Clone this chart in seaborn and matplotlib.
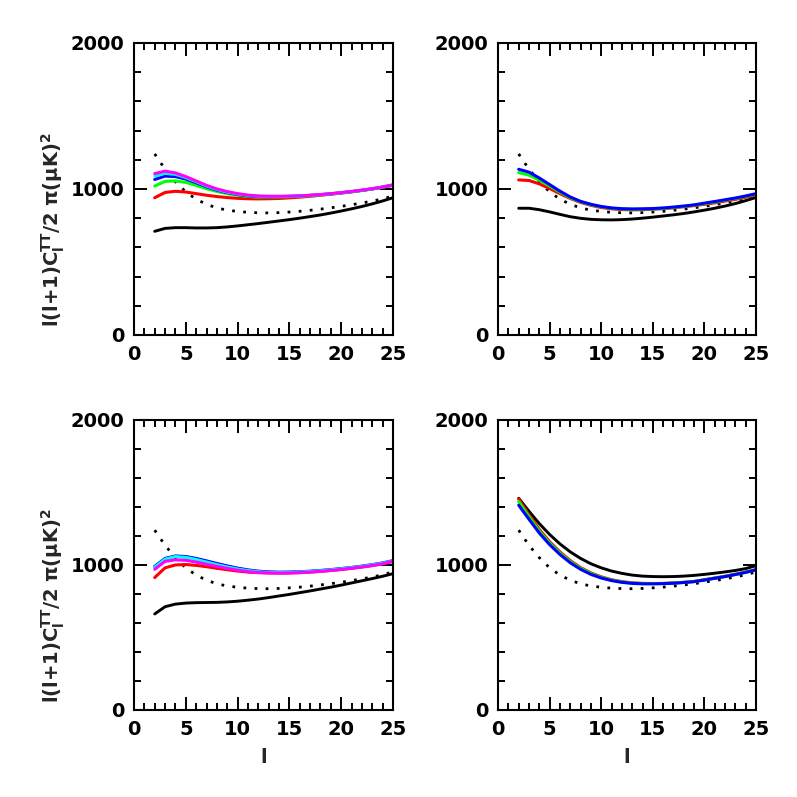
import pandas as pd
import seaborn as sns
import matplotlib.pyplot as plt
from matplotlib.ticker import MultipleLocator

# multipoles
ell = list(range(2, 26))

# reference model (dotted, same in every panel)
ref_dotted = [1240, 1135, 1050, 980, 930, 895, 870, 855, 846, 840, 837, 836,
              838, 842, 847, 854, 862, 871, 881, 892, 904, 917, 932, 952]

# top left
tl_black = [710, 730, 735, 735, 733, 733, 735, 740, 747, 755, 763, 772,
            781, 790, 800, 811, 822, 835, 849, 864, 880, 898, 918, 940]
tl_red = [940, 976, 984, 979, 968, 957, 948, 941, 936, 933, 932, 933,
          935, 939, 944, 950, 957, 964, 972, 980, 990, 1000, 1012, 1025]
tl_green = [1020, 1052, 1055, 1045, 1025, 1002, 983, 968, 957, 949, 945, 944,
            945, 947, 950, 954, 959, 966, 973, 981, 990, 1000, 1012, 1026]
tl_blue = [1065, 1088, 1085, 1068, 1043, 1015, 992, 975, 962, 953, 948, 946,
           947, 949, 952, 956, 961, 967, 974, 982, 991, 1001, 1013, 1027]
tl_cyan = [1088, 1107, 1100, 1078, 1050, 1020, 996, 978, 965, 956, 950, 948,
           948, 950, 952, 956, 961, 967, 974, 982, 991, 1001, 1013, 1027]
tl_magenta = [1105, 1122, 1110, 1085, 1055, 1025, 1000, 982, 968, 958, 952, 950,
              950, 951, 953, 957, 962, 968, 975, 983, 992, 1002, 1013, 1028]

# top right
tr_black = [868, 868, 858, 843, 826, 810, 799, 792, 789, 788, 790, 794,
            800, 807, 815, 823, 832, 843, 855, 868, 883, 900, 920, 942]
tr_red = [1062, 1058, 1035, 1003, 968, 935, 908, 888, 873, 864, 859, 857,
          858, 861, 865, 871, 878, 886, 895, 905, 917, 929, 943, 960]
tr_green = [1112, 1095, 1060, 1020, 978, 940, 912, 892, 878, 868, 863, 861,
            862, 864, 868, 874, 881, 889, 900, 911, 923, 935, 949, 965]
tr_blue = [1135, 1115, 1075, 1030, 985, 945, 915, 895, 880, 870, 865, 863,
           864, 866, 870, 876, 883, 891, 903, 914, 926, 938, 952, 968]

# bottom left
bl_black = [662, 712, 730, 737, 740, 741, 742, 745, 750, 757, 765, 775,
            786, 797, 809, 821, 834, 847, 861, 876, 891, 906, 922, 940]
bl_red = [913, 980, 1000, 1003, 997, 988, 977, 967, 958, 951, 947, 945,
          944, 945, 947, 951, 956, 962, 969, 977, 986, 996, 1008, 1024]
bl_green = [988, 1042, 1060, 1055, 1042, 1024, 1006, 990, 975, 963, 955, 950,
            948, 949, 951, 955, 960, 966, 973, 981, 990, 1000, 1012, 1027]
bl_blue = [990, 1045, 1062, 1058, 1045, 1028, 1010, 993, 978, 966, 957, 952,
           950, 951, 953, 957, 962, 968, 975, 983, 992, 1002, 1014, 1030]
bl_cyan = [985, 1040, 1058, 1052, 1038, 1020, 1002, 986, 972, 961, 953, 948,
           947, 948, 951, 955, 960, 966, 973, 981, 990, 1000, 1012, 1028]
bl_magenta = [970, 1025, 1035, 1032, 1020, 1005, 990, 976, 964, 954, 948, 945,
              944, 945, 947, 951, 956, 962, 969, 977, 986, 996, 1008, 1026]

# bottom right
br_black = [1460, 1370, 1285, 1210, 1145, 1090, 1045, 1008, 980, 958, 942, 930,
            923, 920, 919, 920, 923, 928, 935, 943, 952, 962, 975, 995]
br_red = [1455, 1345, 1245, 1160, 1090, 1030, 982, 945, 918, 898, 885, 877,
          873, 872, 873, 876, 880, 886, 898, 910, 922, 936, 951, 968]
br_green = [1437, 1332, 1234, 1151, 1082, 1023, 977, 941, 914, 895, 883, 875,
            871, 871, 872, 875, 880, 886, 897, 909, 921, 935, 950, 967]
br_blue = [1412, 1315, 1220, 1140, 1072, 1015, 970, 935, 910, 892, 880, 873,
           870, 870, 871, 874, 879, 885, 896, 908, 920, 934, 949, 966]

panels = [
    (tl_black, [('#ff0000', tl_red), ('#00ff00', tl_green), ('#0000ff', tl_blue),
                ('#00ffff', tl_cyan), ('#ff00ff', tl_magenta)]),
    (tr_black, [('#ff0000', tr_red), ('#00ff00', tr_green), ('#0000ff', tr_blue)]),
    (bl_black, [('#ff0000', bl_red), ('#00ff00', bl_green), ('#0000ff', bl_blue),
                ('#00ffff', bl_cyan), ('#ff00ff', bl_magenta)]),
    (br_black, [('#ff0000', br_red), ('#00ff00', br_green), ('#0000ff', br_blue)]),
]

sns.set_theme(style="ticks")
plt.rcParams['font.family'] = ['DejaVu Sans']
plt.rcParams['font.weight'] = 'bold'
plt.rcParams['axes.labelweight'] = 'bold'
plt.rcParams['mathtext.default'] = 'regular'

fig = plt.figure(figsize=(7.97, 7.97), dpi=100)
rects = [[0.1681, 0.5797, 0.3250, 0.3664], [0.6249, 0.5797, 0.3237, 0.3664],
         [0.1681, 0.1092, 0.3250, 0.3639], [0.6249, 0.1092, 0.3237, 0.3639]]

ylab = r'l(l+1)C$_{l}^{TT}$/2 $\pi$($\mu$K)$^2$'

for i, (rect, (black, colored)) in enumerate(zip(rects, panels)):
    ax = fig.add_axes(rect)
    df = pd.DataFrame({'l': ell, 'ref': ref_dotted, 'black': black})
    sns.lineplot(data=df, x='l', y='ref', ax=ax, color='black', lw=2.0,
                 linestyle=(0, (1, 3)))
    sns.lineplot(data=df, x='l', y='black', ax=ax, color='black', lw=2.1)
    for col, vals in colored:
        sns.lineplot(x=ell, y=vals, ax=ax, color=col, lw=2.2)

    ax.set_xlim(0, 25)
    ax.set_ylim(0, 2000)
    ax.xaxis.set_major_locator(MultipleLocator(5))
    ax.xaxis.set_minor_locator(MultipleLocator(1))
    ax.yaxis.set_major_locator(MultipleLocator(1000))
    ax.yaxis.set_minor_locator(MultipleLocator(200))
    ax.tick_params(which='both', direction='in', top=True, right=True,
                   width=1.4, colors='black', labelsize=14, pad=7)
    ax.tick_params(which='major', length=9.5)
    ax.tick_params(which='minor', length=5)
    for sp in ax.spines.values():
        sp.set_linewidth(1.5)
        sp.set_color('black')

    ax.set_xlabel('l' if i >= 2 else '', fontsize=14, fontweight='bold')
    ax.xaxis.set_label_coords(0.5, -0.13)
    ax.set_ylabel(ylab if i % 2 == 0 else '', fontsize=14, fontweight='bold')
    ax.yaxis.set_label_coords(-0.26, 0.36)

fig.savefig('out.png', dpi=100)
